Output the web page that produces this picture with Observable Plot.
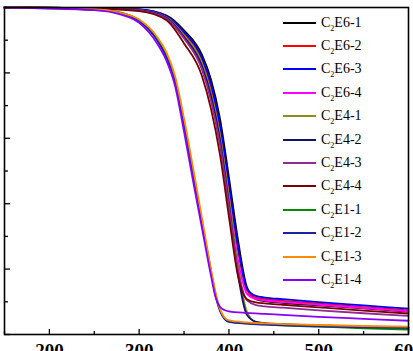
<!DOCTYPE html>
<html>
<head>
<meta charset="utf-8">
<script src="https://cdn.jsdelivr.net/npm/d3@7"></script>
<script src="https://cdn.jsdelivr.net/npm/@observablehq/plot@0.6"></script>
<style>
  html, body { margin: 0; padding: 0; background: #fff; }
  #wrap { position: relative; width: 413px; height: 351px; overflow: hidden; }
  #legend { position: absolute; left: 283px; top: 11px; font-family: "Liberation Serif", "Times New Roman", serif; font-size: 14px; color: #000; }
  .row { height: 23.4px; display: flex; align-items: center; }
  .sw { width: 33px; height: 2px; margin-right: 5px; }
  .lab sub { font-size: 8px; vertical-align: -4px; line-height: 0; }
</style>
</head>
<body>
<div id="wrap"><div id="chart"></div><div id="legend"></div></div>
<script>
const seriesNames = ["C2E6-1","C2E6-2","C2E6-3","C2E6-4","C2E4-1","C2E4-2","C2E4-3","C2E4-4","C2E1-1","C2E1-2","C2E1-3","C2E1-4"];
const seriesColors = ["#000000","#ff0000","#0000ff","#ff00ff","#8c8c1a","#12126e","#922a92","#7a0000","#008a00","#1a24a0","#ff8a00","#8a00ff"];

const tLate  = [150,250,300,330,350,370,380,390,400,410,420,430,440,460,500,550,600];
const tEarly = [150,250,280,300,320,330,340,350,360,370,380,385,390,395,400,420,440,460,500,550,600];

const C2E6_1 = [100,99.8,99.4,97.6,93,85.5,78,66,48,29,14.5,10.8,10.2,9.7,8.9,8,7];
const C2E6_2 = [100,99.8,99.3,97.2,92,84,75.5,63,45,26,13.5,11.3,10.8,10.3,9.4,8.4,7.4];
const C2E6_3 = [100,99.8,99.4,97.4,92.5,84.5,76.5,64,46,27,14,11.8,11.3,10.8,9.9,8.9,7.9];
const C2E6_4 = [100,99.8,99.2,97,91.2,82.5,73.5,60.5,42,23,12.5,10.8,10.4,9.9,9.1,8.1,7.1];
const C2E4_1 = [100,99.8,99.2,97.1,91.5,83,74,61,42,21,7,3.8,3.4,3.1,2.6,2.1,1.7];
const C2E4_2 = [100,99.8,99.2,96.9,91,82,73,59.5,40,18.5,6,3.9,3.5,3.2,2.8,2.4,2.1];
const C2E4_3 = [100,99.8,99.1,96.6,90.5,81,71.5,58,39,20,10.5,9,8.6,8.2,7.4,6.5,5.7];
const C2E4_4 = [100,99.7,98.9,96.2,89,79,69,55,36,18,10.8,9.8,9.5,9.1,8.3,7.3,6.4];
const C2E1_1 = [100,99.4,98.4,96,90.5,85.5,78,65,50,34.5,19.5,12.5,7.5,5,4,3.4,3.1,2.8,2.4,1.9,1.5];
const C2E1_2 = [100,99.3,98.2,95.8,90,85,77.5,64,49,34,19,12,7.2,4.8,3.9,3.3,3,2.8,2.5,2.2,2];
const C2E1_3 = [100,99.5,98.3,96.3,91,86.5,79,66,51,35.5,20,13,7.8,5.2,4.3,3.7,3.4,3.2,2.9,2.6,2.4];
const C2E1_4 = [100,99.2,97.8,95.3,89,84,76,62,47,32.5,18,11.5,8.5,7.5,7.1,6.6,6.3,6,5.4,4.8,4.2];

const xMajor = [200,300,400,500,600];
const xMinor = [150,250,350,450,550];
const yMajor = [0,20,40,60,80,100];
const yMinor = [10,30,50,70,90];

const seriesValues = [C2E6_1,C2E6_2,C2E6_3,C2E6_4,C2E4_1,C2E4_2,C2E4_3,C2E4_4,C2E1_1,C2E1_2,C2E1_3,C2E1_4];
const seriesTemps  = [tLate,tLate,tLate,tLate,tLate,tLate,tLate,tLate,tEarly,tEarly,tEarly,tEarly];

const data = [];
seriesNames.forEach((name, i) => {
  seriesValues[i].forEach((v, j) => data.push({series: name, T: seriesTemps[i][j], w: v}));
});

const noText = () => "";

const chart = Plot.plot({
  width: 413,
  height: 351,
  marginTop: 7,
  marginBottom: 17,
  marginLeft: 4,
  marginRight: 5,
  x: {domain: [150, 600]},
  y: {domain: [0, 100]},
  color: {domain: seriesNames, range: seriesColors},
  style: {fontFamily: "'Liberation Serif', 'Times New Roman', serif", background: "#fff"},
  marks: [
    Plot.line(data, {x: "T", y: "w", z: "series", stroke: "series", strokeWidth: 1.8, curve: "monotone-x"}),
    Plot.axisX({ticks: xMajor, tickSize: -5, tickFormat: noText, strokeWidth: 1.3, label: null}),
    Plot.axisX({ticks: xMinor, tickSize: -3, tickFormat: noText, strokeWidth: 1.3, label: null}),
    Plot.axisX({ticks: xMajor, tickSize: 0, tickPadding: 9, fontSize: 19, fontWeight: "bold", label: null}),
    Plot.axisY({ticks: yMajor, tickSize: -6, tickFormat: noText, strokeWidth: 1.3, label: null}),
    Plot.axisY({ticks: yMinor, tickSize: -4, tickFormat: noText, strokeWidth: 1.3, label: null}),
    Plot.frame({stroke: "#000", strokeWidth: 1.6})
  ]
});
document.getElementById("chart").appendChild(chart);

const leg = document.getElementById("legend");
seriesNames.forEach((name, i) => {
  const row = document.createElement("div");
  row.className = "row";
  const sw = document.createElement("div");
  sw.className = "sw";
  sw.style.background = seriesColors[i];
  const lab = document.createElement("span");
  lab.className = "lab";
  lab.innerHTML = "C<sub>2</sub>" + name.slice(2);
  row.appendChild(sw);
  row.appendChild(lab);
  leg.appendChild(row);
});
</script>
</body>
</html>
